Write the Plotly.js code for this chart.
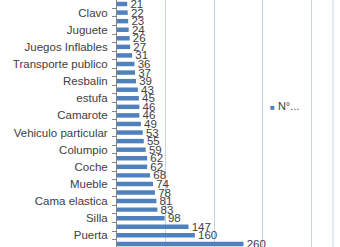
<!DOCTYPE html>
<html>
<head>
<meta charset="utf-8">
<script src="https://cdn.plot.ly/plotly-3.0.1.min.js"></script>
<style>html,body{margin:0;padding:0;background:#fff;}#chart{width:340px;height:247px;}</style>
</head>
<body>
<div id="chart"></div>
<script>
const values = [21, 22, 23, 24, 26, 27, 31, 36, 37, 39, 43, 45, 46, 46, 49, 53, 55, 59, 62, 62, 68, 74, 78, 81, 83, 98, 147, 160, 260];
const categories = ["", "Clavo", "", "Juguete", "", "Juegos Inflables", "", "Transporte publico", "", "Resbalin", "", "estufa", "", "Camarote", "", "Vehiculo particular", "", "Columpio", "", "Coche", "", "Mueble", "", "Cama elastica", "", "Silla", "", "Puerta", ""];
const seriesName = "N°...";

const idx = values.map((_, i) => i);
const labelIdx = idx.filter(i => categories[i] !== "");
const boundaries = idx.map(i => i - 0.5).concat([values.length - 0.5]);

const trace = {
  type: 'bar',
  orientation: 'h',
  x: values,
  y: idx,
  width: 0.52,
  marker: {color: '#4F81BD'},
  texttemplate: ' %{x}',
  textposition: 'outside',
  cliponaxis: false,
  constraintext: 'none',
  textfont: {family: 'Liberation Sans, Arial, sans-serif', size: 11.5, color: '#404040'},
  hoverinfo: 'none',
  showlegend: false,
  name: seriesName
};

const layout = {
  width: 340, height: 247,
  margin: {l: 116.5, r: 7, t: 0, b: 0, pad: 0},
  paper_bgcolor: '#fff', plot_bgcolor: '#fff',
  showlegend: false,
  bargap: 0.48,
  xaxis: {
    range: [0, 444], dtick: 100, tick0: 0,
    showgrid: true, gridcolor: '#C6D3E8', gridwidth: 1,
    zeroline: false, showline: false, showticklabels: false, ticks: ''
  },
  yaxis: {
    range: [28.36, -0.47],
    tickmode: 'array',
    tickvals: labelIdx,
    ticktext: labelIdx.map(i => categories[i]),
    ticks: '',
    ticklabelstandoff: 6,
    showgrid: false, zeroline: false,
    showline: true, linecolor: '#868686', linewidth: 1,
    tickfont: {family: 'Liberation Sans, Arial, sans-serif', size: 11.5, color: '#404040'},
    minor: {tickmode: 'array', tickvals: boundaries, ticks: 'outside', ticklen: 4, tickcolor: '#868686', tickwidth: 1, showgrid: false}
  },
  shapes: [{type: 'line', xref: 'paper', yref: 'paper', x0: 1, x1: 1, y0: 0, y1: 1, line: {color: '#C6D3E8', width: 1}}],
  annotations: [{
    xref: 'paper', yref: 'paper', x: 0.70, y: 0.571, xanchor: 'left', yanchor: 'middle',
    showarrow: false,
    text: '<span style="color:#4F81BD;font-size:8px">■</span> ' + seriesName,
    font: {family: 'Liberation Sans, Arial, sans-serif', size: 11, color: '#404040'}
  }]
};

Plotly.newPlot('chart', [trace], layout, {staticPlot: true, displayModeBar: false});
</script>
</body>
</html>
